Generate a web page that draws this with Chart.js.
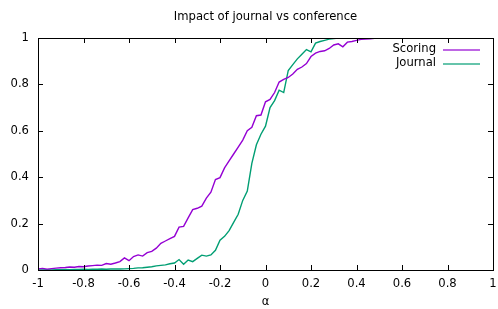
<!DOCTYPE html>
<html>
<head>
<meta charset="utf-8">
<script src="https://cdn.jsdelivr.net/npm/chart.js@4.4.1/dist/chart.umd.min.js"></script>
<style>
  html, body { margin: 0; padding: 0; background: #fff; }
  #wrap { width: 498px; height: 309px; }
</style>
</head>
<body>
<div id="wrap"><canvas id="plot"></canvas></div>
<script>
// valores de alpha, de -1 a 1 cada 0.02
const alphas = [
  -1.00, -0.98, -0.96, -0.94, -0.92, -0.90, -0.88, -0.86, -0.84, -0.82,
  -0.80, -0.78, -0.76, -0.74, -0.72, -0.70, -0.68, -0.66, -0.64, -0.62,
  -0.60, -0.58, -0.56, -0.54, -0.52, -0.50, -0.48, -0.46, -0.44, -0.42,
  -0.40, -0.38, -0.36, -0.34, -0.32, -0.30, -0.28, -0.26, -0.24, -0.22,
  -0.20, -0.18, -0.16, -0.14, -0.12, -0.10, -0.08, -0.06, -0.04, -0.02,
  0.00, 0.02, 0.04, 0.06, 0.08, 0.10, 0.12, 0.14, 0.16, 0.18,
  0.20, 0.22, 0.24, 0.26, 0.28, 0.30, 0.32, 0.34, 0.36, 0.38,
  0.40, 0.42, 0.44, 0.46, 0.48, 0.50, 0.52, 0.54, 0.56, 0.58,
  0.60, 0.62, 0.64, 0.66, 0.68, 0.70, 0.72, 0.74, 0.76, 0.78,
  0.80, 0.82, 0.84, 0.86, 0.88, 0.90, 0.92, 0.94, 0.96, 0.98,
  1.00
];

const scoring = [
  0.005, 0.007, 0.004, 0.006, 0.008, 0.010, 0.011, 0.013, 0.012, 0.015,
  0.014, 0.017, 0.019, 0.021, 0.020, 0.028, 0.025, 0.030, 0.036, 0.052,
  0.040, 0.058, 0.065, 0.060, 0.075, 0.080, 0.094, 0.115, 0.125, 0.135,
  0.145, 0.185, 0.188, 0.225, 0.260, 0.266, 0.275, 0.310, 0.335, 0.390,
  0.398, 0.440, 0.470, 0.500, 0.530, 0.560, 0.600, 0.615, 0.665, 0.668,
  0.725, 0.735, 0.765, 0.810, 0.822, 0.830, 0.845, 0.865, 0.875, 0.890,
  0.920, 0.935, 0.942, 0.945, 0.955, 0.970, 0.975, 0.962, 0.982, 0.985,
  0.990, 0.994, 0.995, 0.997, 0.999, 1.000, 1.000, 1.000, 1.000, 1.000,
  1.000, 1.000, 1.000, 1.000, 1.000, 1.000, 1.000, 1.000, 1.000, 1.000,
  1.000, 1.000, 1.000, 1.000, 1.000, 1.000, 1.000, 1.000, 1.000, 1.000,
  1.000
];

const journal = [
  0.000, 0.000, 0.001, 0.000, 0.001, 0.001, 0.002, 0.001, 0.002, 0.002,
  0.003, 0.002, 0.003, 0.003, 0.004, 0.003, 0.004, 0.005, 0.004, 0.005,
  0.006, 0.007, 0.009, 0.010, 0.012, 0.014, 0.018, 0.020, 0.022, 0.027,
  0.030, 0.045, 0.025, 0.043, 0.036, 0.050, 0.064, 0.060, 0.065, 0.085,
  0.128, 0.145, 0.170, 0.205, 0.240, 0.300, 0.340, 0.460, 0.540, 0.585,
  0.620, 0.700, 0.730, 0.775, 0.765, 0.860, 0.885, 0.910, 0.930, 0.950,
  0.940, 0.978, 0.985, 0.990, 0.995, 0.998, 1.000, 1.000, 1.000, 1.000,
  1.000, 1.000, 1.000, 1.000, 1.000, 1.000, 1.000, 1.000, 1.000, 1.000,
  1.000, 1.000, 1.000, 1.000, 1.000, 1.000, 1.000, 1.000, 1.000, 1.000,
  1.000, 1.000, 1.000, 1.000, 1.000, 1.000, 1.000, 1.000, 1.000, 1.000,
  1.000
];

const seriesNames = ['Scoring', 'Journal'];
const seriesColors = ['#9400d3', '#009e73'];
const xTicks = [-1, -0.8, -0.6, -0.4, -0.2, 0, 0.2, 0.4, 0.6, 0.8, 1];
const yTicks = [0, 0.2, 0.4, 0.6, 0.8, 1];
const chartTitle = 'Impact of journal vs conference';
const xLabel = 'α';

const FONT = 'DejaVu Sans, sans-serif';
const FONT_SIZE = 11.6;

function toPoints(values) {
  return alphas.map((a, i) => ({ x: a, y: values[i] }));
}

// marco, marcas hacia dentro, título y leyenda al estilo gnuplot
const gnuplotFrame = {
  id: 'gnuplotFrame',
  afterDatasetsDraw(chart) {
    const { ctx, chartArea: a, scales } = chart;
    const tick = 5;
    ctx.save();
    ctx.strokeStyle = '#000';
    ctx.lineWidth = 1;
    ctx.beginPath();
    for (const v of xTicks) {
      const px = Math.round(scales.x.getPixelForValue(v)) + 0.5;
      ctx.moveTo(px, a.bottom); ctx.lineTo(px, a.bottom - tick);
      ctx.moveTo(px, a.top); ctx.lineTo(px, a.top + tick);
    }
    for (const v of yTicks) {
      const py = Math.round(scales.y.getPixelForValue(v)) + 0.5;
      ctx.moveTo(a.left, py); ctx.lineTo(a.left + tick, py);
      ctx.moveTo(a.right, py); ctx.lineTo(a.right - tick, py);
    }
    ctx.stroke();
    ctx.strokeRect(Math.round(a.left) + 0.5, Math.round(a.top) + 0.5,
      Math.round(a.right - a.left), Math.round(a.bottom - a.top));

    ctx.fillStyle = '#000';
    ctx.font = FONT_SIZE + 'px ' + FONT;
    ctx.textAlign = 'center';
    ctx.textBaseline = 'middle';
    ctx.fillText(chartTitle, (a.left + a.right) / 2, 17);
    ctx.fillText(xLabel, (a.left + a.right) / 2, 302);

    // leyenda
    ctx.textAlign = 'right';
    seriesNames.forEach((name, i) => {
      const y = 49 + i * 14;
      ctx.fillStyle = '#000';
      ctx.fillText(name, 436, y);
      ctx.strokeStyle = seriesColors[i];
      ctx.globalAlpha = 0.8;
      ctx.lineWidth = 1.6;
      ctx.beginPath();
      ctx.moveTo(443, y + 1);
      ctx.lineTo(480, y + 1);
      ctx.stroke();
      ctx.globalAlpha = 1;
    });
    ctx.restore();
  }
};

new Chart(document.getElementById('plot'), {
  type: 'line',
  data: {
    datasets: [
      {
        label: seriesNames[0],
        data: toPoints(scoring),
        borderColor: seriesColors[0],
        borderWidth: 1.4,
        pointRadius: 0,
        tension: 0
      },
      {
        label: seriesNames[1],
        data: toPoints(journal),
        borderColor: seriesColors[1],
        borderWidth: 1.4,
        pointRadius: 0,
        tension: 0
      }
    ]
  },
  options: {
    responsive: true,
    maintainAspectRatio: false,
    animation: false,
    events: [],
    layout: { padding: { top: 38, right: 5, left: 0, bottom: 0 } },
    plugins: {
      legend: { display: false },
      title: { display: false },
      tooltip: { enabled: false }
    },
    scales: {
      x: {
        type: 'linear',
        min: -1,
        max: 1,
        afterBuildTicks: (s) => { s.ticks = xTicks.map(v => ({ value: v })); },
        afterFit: (s) => { s.height = 39; s.paddingLeft = 0; s.paddingRight = 0; },
        grid: { display: false, drawTicks: false },
        border: { display: false },
        ticks: {
          padding: 7,
          color: '#000',
          maxRotation: 0,
          font: { family: FONT, size: FONT_SIZE },
          callback: (v) => String(Math.round(v * 10) / 10)
        }
      },
      y: {
        min: 0,
        max: 1,
        afterBuildTicks: (s) => { s.ticks = yTicks.map(v => ({ value: v })); },
        afterFit: (s) => { s.width = 38; s.paddingTop = 0; s.paddingBottom = 0; },
        grid: { display: false, drawTicks: false },
        border: { display: false },
        ticks: {
          padding: 9,
          color: '#000',
          font: { family: FONT, size: FONT_SIZE },
          callback: (v) => String(Math.round(v * 10) / 10)
        }
      }
    }
  },
  plugins: [gnuplotFrame]
});
</script>
</body>
</html>
